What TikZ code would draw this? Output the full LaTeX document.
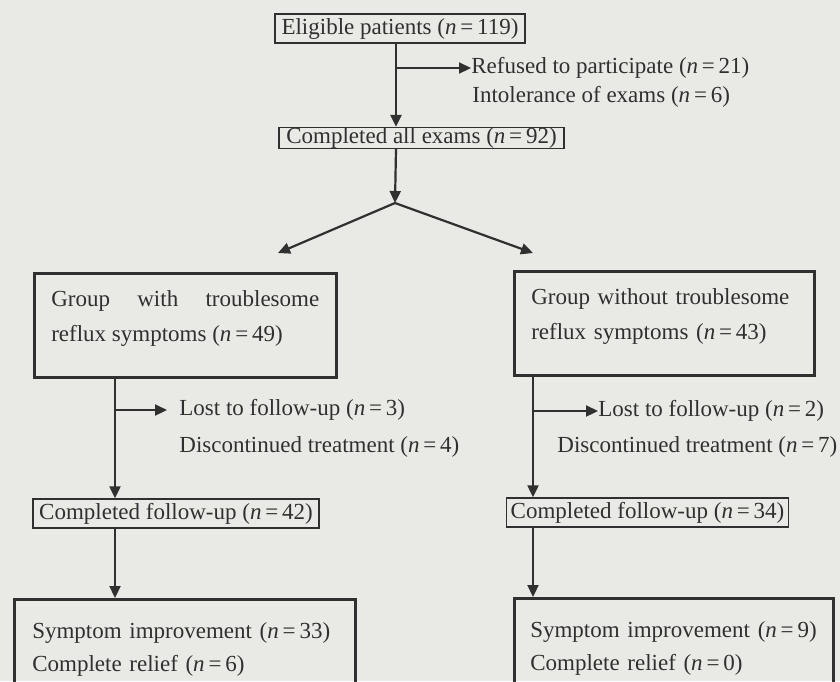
\documentclass[tikz,border=0pt]{standalone}
\usepackage{fontspec}
\setmainfont{Liberation Serif}
\usetikzlibrary{arrows.meta}
\definecolor{paper}{RGB}{233,233,229}
\definecolor{ink}{RGB}{48,48,48}
\newcommand{\ncount}[1]{(\textit{n}\,=\,#1)}
\tikzset{
  smallbox/.style={draw, line width=0.7pt, inner xsep=2pt, inner ysep=0pt},
  groupbox/.style={draw, line width=1.3pt, anchor=north west, inner xsep=8.5pt, inner ysep=8.5pt},
  note/.style={anchor=west, inner sep=0pt},
  flow/.style={line width=1.1pt, -{Triangle[length=6pt,width=5.5pt]}},
}
\begin{document}
\begin{tikzpicture}[x=0.5pt, y=-0.5pt, color=ink, font=\fontsize{11.5}{17.5}\selectfont]
        \fill[paper] (0,0) rectangle (840,681);
        \clip (0,0) rectangle (840,681);
        \node[smallbox, minimum width=125pt, minimum height=14.5pt] (elig) at (400,28.5) {Eligible patients \ncount{119}};
        \node[smallbox, minimum width=142.5pt, minimum height=10pt] (exams) at (421.5,138) {Completed all exams \ncount{92}};
        \node[note] (refused) at (471,68) {Refused to participate \ncount{21}};
        \node[note] (intol) at (472,97) {Intolerance of exams \ncount{6}};
        \coordinate (spine) at (396,0);
        \coordinate (split) at (395,203);
        \coordinate (lefttip) at (278,253);
        \coordinate (righttip) at (533,253);
        \draw[flow] (spine |- elig.south) -- (spine |- exams.north);
        \draw[flow] (spine |- refused.west) -- (refused.west);
        \draw[flow] (spine |- exams.south) -- (split);
        \draw[flow] (split) -- (lefttip);
        \draw[flow] (split) -- (righttip);
        \node[groupbox, align=justify, text width=134pt] (withgrp) at (33,272) {Group with troublesome\linebreak reflux symptoms \ncount{49}\par\vspace{7pt}};
        \node[groupbox, align=left, text width=133pt] (withoutgrp) at (513,270) {Group without troublesome\\ reflux symptoms \ncount{43}\par\vspace{7pt}};
        \node[note] (lostwith) at (179,410) {Lost to follow-up \ncount{3}};
        \node[note] (discwith) at (179,447) {Discontinued treatment \ncount{4}};
        \node[note] (lostwithout) at (598,411) {Lost to follow-up \ncount{2}};
        \node[note] (discwithout) at (557,447) {Discontinued treatment \ncount{7}};
        \node[smallbox, minimum width=143pt, minimum height=14.5pt] (fuwith) at (176,513.5) {Completed follow-up \ncount{42}};
        \node[smallbox, minimum width=140.5pt, minimum height=14.5pt] (fuwithout) at (647.5,512.5) {Completed follow-up \ncount{34}};
        \node[groupbox, align=left, text width=152.5pt, inner xsep=9pt, inner ysep=11.5pt, font=\fontsize{11.5}{16.5}\selectfont] (reswith) at (13,598) {Symptom improvement \ncount{33}\\ Complete relief \ncount{6}};
        \node[groupbox, align=left, text width=143.5pt, inner xsep=8pt, inner ysep=11.5pt, font=\fontsize{11.5}{16.5}\selectfont] (reswithout) at (513,597) {Symptom improvement \ncount{9}\\ Complete relief \ncount{0}};
        \coordinate (lspine) at (115,0);
        \coordinate (rspine) at (533,0);
        \draw[flow] (lspine |- withgrp.south) -- (lspine |- fuwith.north);
        \draw[flow] (lspine |- lostwith.west) -- ([xshift=-6pt]lostwith.west);
        \draw[flow] (lspine |- fuwith.south) -- (lspine |- reswith.north);
        \draw[flow] (rspine |- withoutgrp.south) -- (rspine |- fuwithout.north);
        \draw[flow] (rspine |- lostwithout.west) -- (lostwithout.west);
        \draw[flow] (rspine |- fuwithout.south) -- (rspine |- reswithout.north);
    \end{tikzpicture}
\end{document}
